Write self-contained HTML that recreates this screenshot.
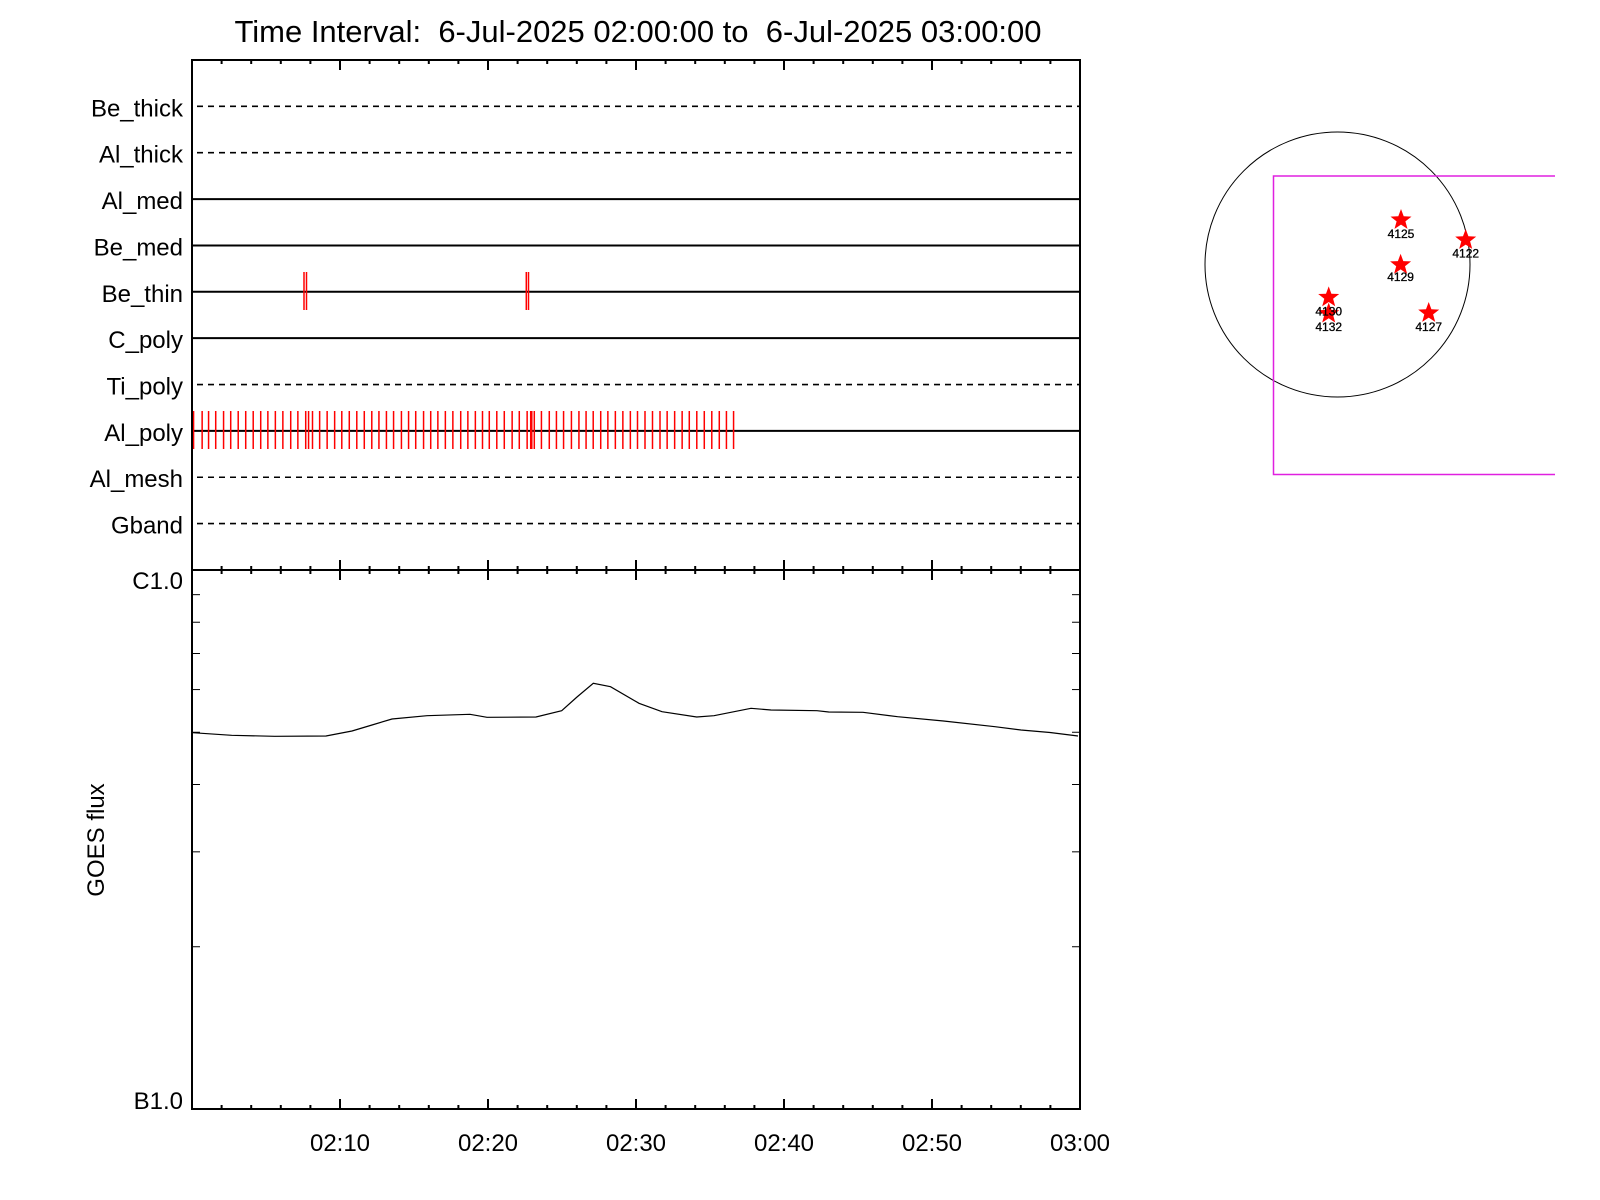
<!DOCTYPE html>
<html><head><meta charset="utf-8"><style>
html,body{margin:0;padding:0;background:#fff;}
svg{display:block;}
text{font-family:"Liberation Sans",sans-serif;fill:#000;white-space:pre;}
</style></head><body>
<svg id="s" width="1600" height="1200" viewBox="0 0 1600 1200" xmlns="http://www.w3.org/2000/svg" xml:space="preserve">
<text x="638" y="42" font-size="31" text-anchor="middle" xml:space="preserve">Time Interval:  6-Jul-2025 02:00:00 to  6-Jul-2025 03:00:00</text>
<g id="rows"></g>
<g id="ticks" stroke="#000" stroke-width="2"></g>
<g id="red" stroke="#f00" stroke-width="1.5"></g>
<rect x="192" y="60" width="888" height="1049" fill="none" stroke="#000" stroke-width="2"/>
<line x1="192" y1="570" x2="1080" y2="570" stroke="#000" stroke-width="2"/>
<text x="183" y="589" font-size="24" text-anchor="end">C1.0</text>
<text x="183" y="1109" font-size="24" text-anchor="end">B1.0</text>
<text transform="translate(104,840) rotate(-90)" font-size="24" text-anchor="middle">GOES flux</text>
<polyline fill="none" stroke="#000" stroke-width="1.2" points="192.6,732.7 231.7,735.3 274.7,736.3 326,736 352,731 372,725 392,719 427,715.7 470,714.3 487,717.3 536,717 561.7,710.7 577,697 593.3,683.3 610.5,686.7 639,703.3 662,711.7 696.7,717 714,715.7 751,708.3 771,710 817,710.7 828.7,712 863,712.3 897.6,716.7 943.5,721 995,726.7 1021,730 1050,732.5 1078,736"/>
<circle cx="1337.5" cy="264.5" r="132.5" fill="none" stroke="#000" stroke-width="1"/>
<polyline points="1555,176 1273.5,176 1273.5,474.5 1555,474.5" fill="none" stroke="#e020e0" stroke-width="1.5"/>
<g id="stars"></g>
</svg>
<script>
var NS="http://www.w3.org/2000/svg",s=document.getElementById('s');
function el(p,t,a,txt){var e=document.createElementNS(NS,t);for(var k in a)e.setAttribute(k,a[k]);if(txt)e.textContent=txt;document.getElementById(p)?document.getElementById(p).appendChild(e):s.appendChild(e);return e;}
var names=["Be_thick","Al_thick","Al_med","Be_med","Be_thin","C_poly","Ti_poly","Al_poly","Al_mesh","Gband"];
var dashed=[1,1,0,0,0,0,1,0,1,1];
for(var i=0;i<10;i++){var y=60+46.36*(i+1);
 var a={x1:192,y1:y,x2:(i==1?1076:1080),y2:y,stroke:"#000","stroke-width":2};
 if(dashed[i]){a["stroke-dasharray"]="6,5";a.x1=197;a["stroke-width"]=1.6;}
 el("rows","line",a);
 el("rows","text",{x:183,y:y+10,"font-size":24,"text-anchor":"end"},names[i]);}
var px=14.8;
for(var m=2;m<60;m+=2){var x=192+m*px,maj=(m%10==0),L=maj?10:4;
 el("ticks","line",{x1:x,y1:60,x2:x,y2:60+L});
 el("ticks","line",{x1:x,y1:570-L,x2:x,y2:570+L});
 el("ticks","line",{x1:x,y1:1109,x2:x,y2:1109-L});}
for(var h=1;h<=6;h++){var x=192+h*10*px;el("s","text",{x:x,y:1151,"font-size":24,"text-anchor":"middle"},h==6?"03:00":"02:"+h+"0");}
for(var v=2;v<=9;v++){var y=1109-Math.log10(v)*539;
 el("ticks","line",{x1:192,y1:y,x2:200,y2:y,"stroke-width":1});
 el("ticks","line",{x1:1072,y1:y,x2:1080,y2:y,"stroke-width":1});}
[304,306.5,526.3,528.5].forEach(function(x){el("red","line",{x1:x,y1:272,x2:x,y2:310});});
var p=[38,62,80,100,122,142,163,184,205,226,246,267,288,310,330,352,360,371,391,412,433,453,474,495,516,537,557,578,598,620,640,660,682,702,722,743,764,786,806,827,847,866,887,908,930,950,972,982,985,992,1012,1034,1054,1074,1096,1117,1137,1157,1178,1198,1219,1240,1261,1281,1302,1323,1344,1364,1385,1406,1426,1447,1468,1489,1510,1530,1550];
p.forEach(function(q){var x=180+q/2.8;el("red","line",{x1:x,y1:411,x2:x,y2:449});});
function star(cx,cy,r){var pts=[];for(var k=0;k<10;k++){var ang=-Math.PI/2+k*Math.PI/5,rr=k%2?r*0.42:r;pts.push((cx+rr*Math.cos(ang)).toFixed(1)+","+(cy+rr*Math.sin(ang)).toFixed(1));}return pts.join(" ");}
var D=[[1405,220,"4125",238],[1469.7,240,"4122",257.5],[1404.6,264.8,"4129",281],[1332.7,297.4,"4130",315.5],[1332.7,313.6,"4132",331],[1432.7,313,"4127",331]];
D.forEach(function(d){el("stars","polygon",{points:star(d[0]-4,d[1],11),fill:"#f00"});});
D.forEach(function(d){el("stars","text",{x:d[0]-4,y:d[3],"font-size":12,"text-anchor":"middle",stroke:"#000","stroke-width":0.3},d[2]);});
</script>
</body></html>
